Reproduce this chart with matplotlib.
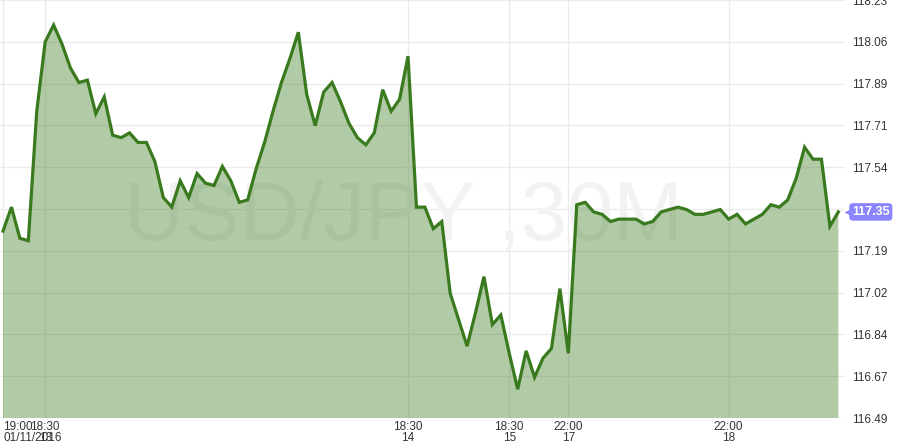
import matplotlib
matplotlib.use('Agg')
import matplotlib.pyplot as plt
import matplotlib.transforms as mtransforms
import numpy as np

plt.rcParams['font.family'] = ['Liberation Sans', 'DejaVu Sans']

# USD/JPY 30M closes, one per bar
prices = [
    117.27, 117.37, 117.24, 117.23, 117.77, 118.06, 118.13, 118.05, 117.95, 117.89,
    117.90, 117.76, 117.83, 117.67, 117.66, 117.68, 117.64, 117.64, 117.56, 117.41,
    117.37, 117.48, 117.41, 117.51, 117.47, 117.46, 117.54, 117.48, 117.39, 117.40,
    117.53, 117.64, 117.77, 117.89, 117.99, 118.10, 117.84, 117.71, 117.85, 117.89,
    117.81, 117.72, 117.66, 117.63, 117.68, 117.86, 117.77, 117.82, 118.00, 117.37,
    117.37, 117.28, 117.31, 117.01, 116.90, 116.79, 116.93, 117.08, 116.88, 116.92,
    116.76, 116.61, 116.77, 116.66, 116.74, 116.78, 117.03, 116.76, 117.38, 117.39,
    117.35, 117.34, 117.31, 117.32, 117.32, 117.32, 117.30, 117.31, 117.35, 117.36,
    117.37, 117.36, 117.34, 117.34, 117.35, 117.36, 117.32, 117.34, 117.30, 117.32,
    117.34, 117.38, 117.37, 117.40, 117.49, 117.62, 117.57, 117.57, 117.29, 117.35,
]

# x-axis labels sit on bar indices
xtick_idx = [0, 5, 48, 60, 67, 86]
xtick_labels = ['19:00\n01/11/2016', '18:30\n13', '18:30\n14', '18:30\n15', '22:00\n17', '22:00\n18']

y_min, y_max = 116.49, 118.06
y_step = (y_max - y_min) / 9
ytick_labels = ['116.49', '116.67', '116.84', '117.02', '117.19', '',
                '117.54', '117.71', '117.89', '118.06', '118.23']

last_label = '117.35'

line_color = '#3a7a1e'
text_color = '#333333'

x = np.arange(len(prices))
yticks = [y_min + k * y_step for k in range(len(ytick_labels))]

fig = plt.figure(figsize=(9, 4.48), dpi=100)
ax = fig.add_axes([0, 30 / 448, 845 / 900, 418 / 448])

# watermark sits behind the translucent fill
ax.text(47.5, 117.235, 'USD/JPY ,30M', fontsize=60, color='#f2f2f2',
        ha='center', va='baseline', zorder=0.8)

ax.fill_between(x, prices, y_min - 1, color=line_color, alpha=0.39, lw=0, zorder=2)
ax.plot(x, prices, color=line_color, lw=2.3, zorder=3, solid_joinstyle='miter')

ax.set_xlim(-0.356, 99.79)
ax.set_ylim(y_min, yticks[-1])

ax.set_yticks(yticks)
ax.set_yticklabels(ytick_labels)
ax.yaxis.tick_right()
ax.tick_params(axis='y', length=0, pad=5, labelsize=8.5, labelcolor=text_color)

ax.set_xticks(xtick_idx)
ax.set_xticklabels(xtick_labels, linespacing=0.95)
ax.tick_params(axis='x', length=0, pad=2, labelsize=8.5, labelcolor=text_color)
ax.get_xticklabels()[0].set_ha('left')

ax.set_axisbelow(True)
ax.grid(True, color='#ebebeb', lw=1, zorder=0.5)
for s in ax.spines.values():
    s.set_visible(False)

# current price tag on the right axis
trans = mtransforms.blended_transform_factory(ax.transAxes, ax.transData)
ax.text(1.0305, prices[-1], last_label, transform=trans, ha='center', va='center',
        fontsize=9, fontweight='bold', color='white', zorder=6, clip_on=False,
        bbox=dict(boxstyle='round,pad=0.22,rounding_size=0.3', fc='#8a85ff', ec='none'))
ax.plot([1.004], [prices[-1]], marker='<', ms=6, color='#8a85ff', mec='none',
        transform=trans, clip_on=False, zorder=5)

fig.savefig('out.png', dpi=100)
